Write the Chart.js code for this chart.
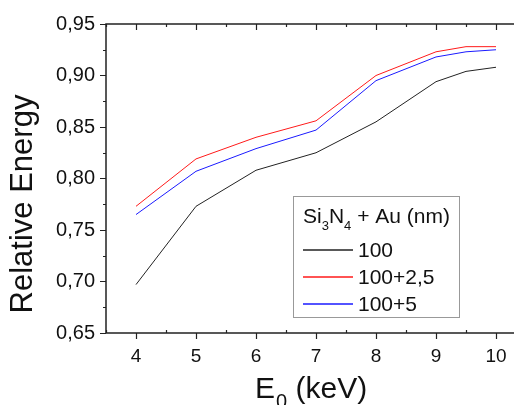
<!DOCTYPE html>
<html>
<head>
<meta charset="utf-8">
<script src="https://cdn.jsdelivr.net/npm/chart.js@4.4.0/dist/chart.umd.min.js"></script>
<style>
  html, body { margin: 0; padding: 0; background: #fff; overflow: hidden; }
  #wrap { width: 530px; height: 405px; }
</style>
</head>
<body>
<div id="wrap"><canvas id="chart-energy" width="530" height="405"></canvas></div>
<script>
// data
const energies = [4, 5, 6, 7, 8, 9, 9.5, 10];
const series100 = [0.697, 0.773, 0.808, 0.825, 0.855, 0.894, 0.904, 0.908];
const series1025 = [0.773, 0.819, 0.840, 0.856, 0.900, 0.923, 0.928, 0.928];
const series105 = [0.765, 0.807, 0.829, 0.847, 0.895, 0.918, 0.923, 0.925];
const seriesNames = ["100", "100+2,5", "100+5"];
const seriesColors = ["#222222", "#ff1a1a", "#1a1aff"];
const xTicks = [4, 5, 6, 7, 8, 9, 10];
const yTicks = [0.65, 0.70, 0.75, 0.80, 0.85, 0.90, 0.95];

const FONT = "'Liberation Sans', Arial, sans-serif";
const AXIS_COLOR = "#222";

function toPoints(values) {
  return energies.map((e, i) => ({ x: e, y: values[i] }));
}

// axes frame + origin-style ticks (outward majors, inward minors)
const frameTicks = {
  id: "frameTicks",
  afterDraw(chart) {
    const ctx = chart.ctx;
    const a = chart.chartArea;
    const xs = chart.scales.x;
    const ys = chart.scales.y;
    ctx.save();
    ctx.strokeStyle = AXIS_COLOR;
    ctx.lineWidth = 1.5;
    ctx.beginPath();
    ctx.moveTo(a.left, a.bottom);
    ctx.lineTo(a.left, a.top);
    ctx.lineTo(a.right, a.top);
    ctx.moveTo(a.left, a.bottom);
    ctx.lineTo(a.right, a.bottom);
    ctx.stroke();

    ctx.lineWidth = 1.2;
    ctx.beginPath();
    for (let v = 3.5; v <= 10.5; v += 0.5) {
      const px = Math.round(xs.getPixelForValue(v)) + 0.5;
      const major = Number.isInteger(v);
      // bottom
      if (major) {
        ctx.moveTo(px, a.bottom);
        ctx.lineTo(px, a.bottom + 6);
      } else {
        ctx.moveTo(px, a.bottom);
        ctx.lineTo(px, a.bottom - 3);
      }
      // top (inward)
      ctx.moveTo(px, a.top);
      ctx.lineTo(px, a.top + (major ? 6 : 3));
    }
    for (let i = 0; i <= 12; i++) {
      const v = 0.65 + i * 0.025;
      const py = Math.round(ys.getPixelForValue(v)) + 0.5;
      ctx.moveTo(a.left, py);
      ctx.lineTo(a.left - (i % 2 === 0 ? 6 : 3), py);
    }
    ctx.stroke();
    ctx.restore();
  },
};

// axis titles with subscripts
const axisTitles = {
  id: "axisTitles",
  afterDraw(chart) {
    const ctx = chart.ctx;
    ctx.save();
    ctx.fillStyle = "#111";
    ctx.textBaseline = "alphabetic";

    // x title: E0 (keV)
    let x = 255;
    const base = 398;
    ctx.font = "30px " + FONT;
    ctx.fillText("E", x, base);
    x += ctx.measureText("E").width;
    ctx.font = "20px " + FONT;
    ctx.fillText("0", x + 1, base + 10);
    x += ctx.measureText("0").width + 1;
    ctx.font = "30px " + FONT;
    ctx.fillText(" (keV)", x, base);

    // y title
    ctx.translate(32, 204);
    ctx.rotate(-Math.PI / 2);
    ctx.textAlign = "center";
    ctx.font = "31px " + FONT;
    ctx.fillText("Relative Energy", 0, 0);
    ctx.restore();
  },
};

// boxed legend with Si3N4 title
const boxLegend = {
  id: "boxLegend",
  afterDraw(chart) {
    const ctx = chart.ctx;
    ctx.save();
    ctx.fillStyle = "#fff";
    ctx.fillRect(293, 196, 166, 121);
    ctx.strokeStyle = "#999";
    ctx.lineWidth = 1;
    ctx.strokeRect(293.5, 196.5, 166, 121);

    ctx.fillStyle = "#111";
    ctx.textBaseline = "alphabetic";
    let x = 303;
    const base = 223;
    const parts = [
      ["Si", 21, 0],
      ["3", 13, 7],
      ["N", 21, 0],
      ["4", 13, 7],
      [" + Au (nm)", 21, 0],
    ];
    parts.forEach(([txt, size, dy]) => {
      ctx.font = size + "px " + FONT;
      ctx.fillText(txt, x, base + dy);
      x += ctx.measureText(txt).width;
    });

    ctx.font = "21px " + FONT;
    ctx.textBaseline = "middle";
    seriesNames.forEach((name, i) => {
      const y = 250 + i * 27;
      ctx.strokeStyle = seriesColors[i];
      ctx.lineWidth = 1.3;
      ctx.beginPath();
      ctx.moveTo(303, y);
      ctx.lineTo(353, y);
      ctx.stroke();
      ctx.fillStyle = "#111";
      ctx.fillText(name, 358, y + 1);
    });
    ctx.restore();
  },
};

const chartConfig = {
  type: "line",
  data: {
    datasets: [series100, series1025, series105].map((values, i) => ({
      label: seriesNames[i],
      data: toPoints(values),
      borderColor: seriesColors[i],
      borderWidth: 1,
      pointRadius: 0,
      tension: 0,
      fill: false,
    })),
  },
  plugins: [frameTicks, axisTitles, boxLegend],
  options: {
    responsive: false,
    animation: false,
    layout: { padding: { left: 0, top: 24, right: 4, bottom: 0 } },
    scales: {
      x: {
        type: "linear",
        min: 3.5,
        max: 10.5,
        afterBuildTicks: (scale) => {
          scale.ticks = xTicks.map((v) => ({ value: v }));
        },
        afterFit: (scale) => {
          scale.height = 72;
        },
        grid: { display: false, drawTicks: false },
        border: { display: false },
        ticks: {
          padding: 12,
          color: "#111",
          font: { family: FONT, size: 19 },
          maxRotation: 0,
          callback: (v) => String(v),
        },
      },
      y: {
        min: 0.65,
        max: 0.95,
        afterBuildTicks: (scale) => {
          scale.ticks = yTicks.map((v) => ({ value: v }));
        },
        afterFit: (scale) => {
          scale.width = 106;
        },
        grid: { display: false, drawTicks: false },
        border: { display: false },
        ticks: {
          padding: 11,
          color: "#111",
          font: { family: FONT, size: 20 },
          callback: (v) => v.toFixed(2).replace(".", ","),
        },
      },
    },
    plugins: {
      legend: { display: false },
      tooltip: { enabled: false },
    },
  },
};

new Chart(document.getElementById("chart-energy").getContext("2d"), chartConfig);
</script>
</body>
</html>
